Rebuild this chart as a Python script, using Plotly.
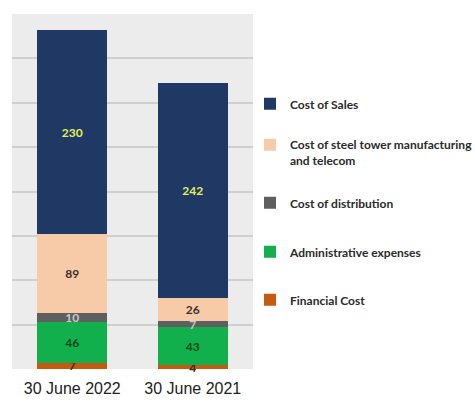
import plotly.graph_objects as go

categories = ["30 June 2022", "30 June 2021"]
series_names = [
    "Financial Cost",
    "Administrative expenses",
    "Cost of distribution",
    "Cost of steel tower manufacturing<br>and telecom",
    "Cost of Sales",
]
financial_cost = [7, 4]
admin_expenses = [46, 43]
distribution = [10, 7]
steel_tower = [89, 26]
cost_of_sales = [230, 242]

series_values = [financial_cost, admin_expenses, distribution, steel_tower, cost_of_sales]
colors = ["#c55a11", "#12b04c", "#5f5f5f", "#f8cba8", "#1f3864"]
text_colors = ["#3a2a1a", "#0b4a1c", "#c8c8c8", "#3a3030", "#e4f05a"]
legend_y_px = [300, 252, 203, 153, 104]

W, H = 475, 403
fig = go.Figure()
for i, (name, vals) in enumerate(zip(series_names, series_values)):
    lname = "legend" if i == 0 else f"legend{i+1}"
    fig.add_trace(go.Bar(
        x=categories, y=vals, name=name,
        marker=dict(color=colors[i], line=dict(width=0)),
        text=[str(v) for v in vals],
        textposition="inside", insidetextanchor="middle",
        constraintext="none", textangle=0, cliponaxis=False,
        textfont=dict(family="Lato", size=12, color=text_colors[i], weight="bold"),
        legend=lname,
    ))

layout_legends = {}
for i in range(len(series_names)):
    key = "legend" if i == 0 else f"legend{i+1}"
    layout_legends[key] = dict(
        xref="container", yref="container",
        x=250 / W, y=1 - legend_y_px[i] / H,
        xanchor="left", yanchor="middle",
        bgcolor="rgba(0,0,0,0)", valign="top",
        font=dict(family="Lato", size=12, color="#2a2a2a", weight="bold"),
        itemwidth=30,
    )

fig.update_layout(
    barmode="stack",
    bargap=0.42,
    width=W, height=H,
    margin=dict(l=12, r=222, t=14, b=34, autoexpand=False),
    paper_bgcolor="white",
    plot_bgcolor="#ececec",
    showlegend=True,
    xaxis=dict(
        tickfont=dict(family="Liberation Sans, Arial", size=16, color="#222222"),
        showline=False, ticks="", ticklen=0, ticklabelstandoff=8,
        automargin=False,
    ),
    yaxis=dict(
        range=[0, 400], dtick=50, showticklabels=False,
        gridcolor="#cfcfcf", gridwidth=1.5, zeroline=False, automargin=False,
    ),
    **layout_legends,
)

fig.write_html("out.html")
